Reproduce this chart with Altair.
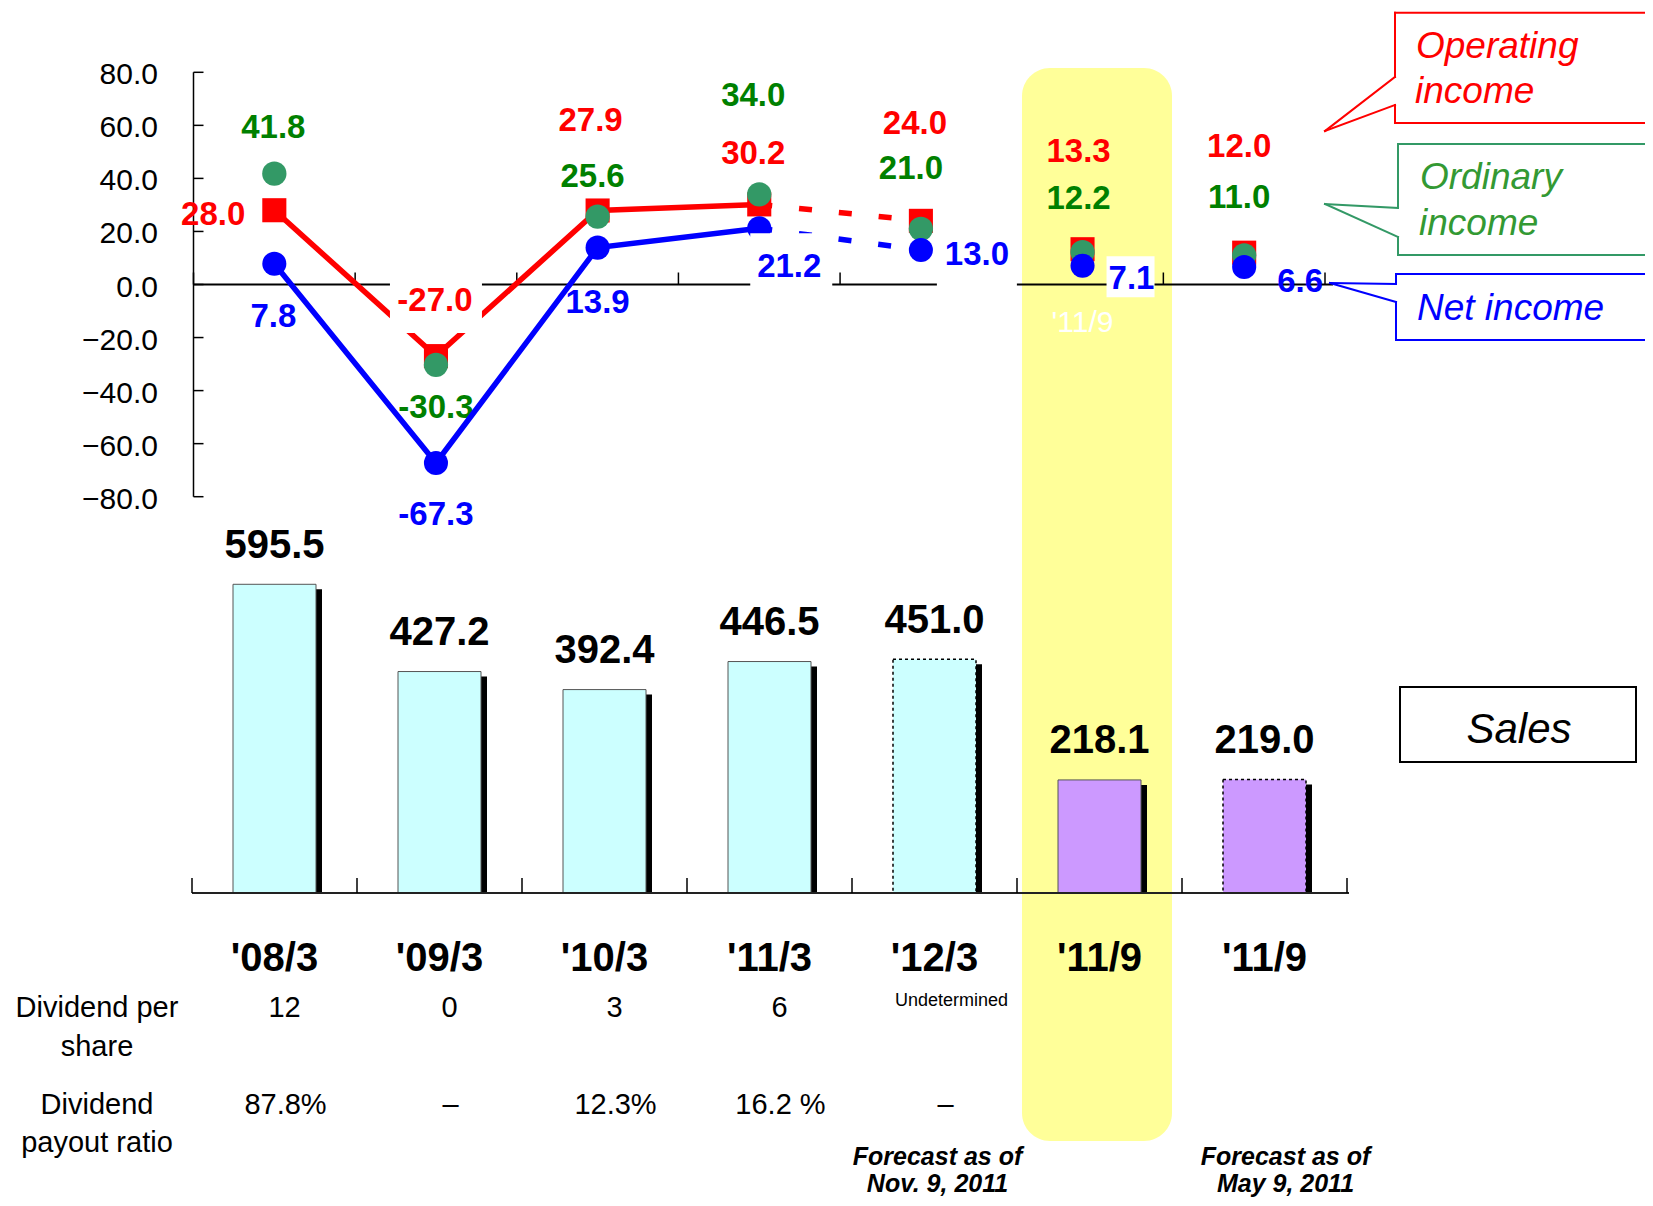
import altair as alt
import pandas as pd

# ---------------- data ----------------
keys = ["08/3", "09/3", "10/3", "11/3", "12/3", "11/9", "11/9f"]
labels = ["'08/3", "'09/3", "'10/3", "'11/3", "'12/3", "'11/9", "'11/9"]
sales = [595.5, 427.2, 392.4, 446.5, 451.0, 218.1, 219.0]
operating = [28.0, -27.0, 27.9, 30.2, 24.0, 13.3, 12.0]
ordinary = [41.8, -30.3, 25.6, 34.0, 21.0, 12.2, 11.0]
net = [7.8, -67.3, 13.9, 21.2, 13.0, 7.1, 6.6]
dividend = ["12", "0", "3", "6", "Undetermined", "", ""]
payout = ["87.8%", "–", "12.3%", "16.2 %", "–", "", ""]
span = ["year", "year", "year", "year", "year", "half", "half"]
forecast = [False, False, False, False, True, False, True]
notes = ["", "", "", "", "Forecast as of\nNov. 9, 2011", "", "Forecast as of\nMay 9, 2011"]
y_ticks = [-80, -60, -40, -20, 0, 20, 40, 60, 80]

df = pd.DataFrame({
    "idx": list(range(len(keys))),
    "key": keys, "label": labels, "sales": sales,
    "operating": operating, "ordinary": ordinary, "net": net,
    "dividend": dividend, "payout": payout, "span": span,
    "forecast": forecast, "note": notes,
})
for col in ["operating", "ordinary", "net"]:
    df[col + "_txt"] = [f"{v:.1f}" for v in df[col]]
ticks_df = pd.DataFrame({"v": y_ticks})

ONE = alt.Data(values=[{"o": 0}])

# ---------------- style / layout ----------------
FONT = "Liberation Sans"
W, H = 1637, 1190
RED, BLUE, GREEN_M, GREEN_T = "#FF0000", "#0000FF", "#339966", "#008000"

XT = alt.Scale(type="band", domain=keys, range=[185.5, 1317], paddingInner=0, paddingOuter=0)
YT = alt.Scale(type="linear", domain=[-80, 80], range=[488.7, 64.3], nice=False, zero=False)
XB = alt.Scale(type="band", domain=keys, range=[184, 1339], paddingInner=0, paddingOuter=0)
YB = alt.Scale(type="linear", domain=[0, 600], range=[885, 573.96], nice=False)

top = alt.Chart(df)
bot = alt.Chart(df)
xt = alt.X("key:N", scale=XT, axis=None)
xb = alt.X("key:N", scale=XB, axis=None)


def yt(field):
    return alt.Y(f"{field}:Q", scale=YT, axis=None)


def zero_t():
    return alt.YDatum(0, scale=YT, axis=None, type="quantitative")


def zero_b():
    return alt.YDatum(0, scale=YB, axis=None, type="quantitative")


# ---------------- highlight ----------------
highlight = alt.Chart(ONE).mark_rect(color="#FFFF99", cornerRadius=28).encode(
    x=alt.value(1014), x2=alt.value(1164), y=alt.value(60), y2=alt.value(1133))

# ---------------- top panel: axes ----------------
yaxis_line = alt.Chart(ONE).mark_rule(color="black", strokeWidth=1.5).encode(
    x=alt.value(185.5),
    y=alt.YDatum(-80, scale=YT, axis=None, type="quantitative"),
    y2=alt.Y2Datum(80))
yaxis_ticks = alt.Chart(ticks_df).mark_rule(color="black", strokeWidth=1.5).encode(
    x=alt.value(185.5), x2=alt.value(195.5), y=alt.Y("v:Q", scale=YT, axis=None))
yaxis_labels = alt.Chart(ticks_df).transform_calculate(
    t="format(datum.v, '.1f')"
).mark_text(align="right", baseline="middle", dy=3, font=FONT, fontSize=30, color="black").encode(
    x=alt.value(150), y=alt.Y("v:Q", scale=YT, axis=None), text="t:N")

zero_rule = alt.Chart(ONE).mark_rule(color="black", strokeWidth=2).encode(
    x=alt.value(185.5), x2=alt.value(1325), y=zero_t())
zero_ticks = top.mark_rule(color="black", strokeWidth=1.5).encode(
    x=alt.X("key:N", scale=XT, axis=None, bandPosition=0), y=zero_t(), y2=alt.value(264.5))
zero_tick_end = top.transform_filter(alt.datum.key == keys[-1]).mark_rule(
    color="black", strokeWidth=1.5).encode(
    x=alt.X("key:N", scale=XT, axis=None, bandPosition=1), y=zero_t(), y2=alt.value(264.5))


def line(field, color, ks, dash=None):
    props = dict(color=color, strokeWidth=5.5)
    if dash:
        props["strokeDash"] = dash
    return top.transform_filter(
        alt.FieldOneOfPredicate(field="key", oneOf=ks)
    ).mark_line(**props).encode(x=xt, y=yt(field), order="idx:Q")


LABEL_OFFS = {
    "operating": [(-29, 5, "right"), (-1, -55), (-7, -89), (-6, -50), (-6, -97), (-4, -97), (-5, -106)],
    "ordinary": [(-1, -46), (0, 43), (-5, -40), (-6, -98), (-10, -60), (-4, -53), (-5, -57)],
    "net": [(-1, 53), (0, 52), (0, 55), (30, 39), (56, 5), (49, 13), (56, 15)],
}
COLORS = {"operating": RED, "ordinary": GREEN_T, "net": BLUE}
BOXED = {("operating", 1): (0, -51, 92, 56), ("net", 3): (32, 34, 82, 58),
         ("net", 4): (56, 7, 80, 64), ("net", 5): (48, 11, 48, 41)}


def label(field, i):
    o = LABEL_OFFS[field][i]
    align = o[2] if len(o) > 2 else "center"
    return top.transform_filter(alt.datum.key == keys[i]).mark_text(
        dx=o[0], dy=o[1], align=align, baseline="middle", font=FONT,
        fontSize=33, fontWeight="bold", color=COLORS[field]
    ).encode(x=xt, y=yt(field), text=f"{field}_txt:N")


def box(field, i):
    bx, by, w, h = BOXED[(field, i)]
    r = h / w
    path = f"M-1,{-r:.4f}H1V{r:.4f}H-1Z"
    return top.transform_filter(alt.datum.key == keys[i]).mark_point(
        shape=path, size=w * w, filled=True, fill="white", strokeWidth=0,
        opacity=1, xOffset=bx, yOffset=by
    ).encode(x=xt, y=yt(field))


plain_labels = [label(f, i) for f in ["operating", "ordinary", "net"]
                for i in range(len(keys)) if (f, i) not in BOXED]
boxed = [box(f, i) for (f, i) in BOXED] + [label(f, i) for (f, i) in BOXED]

white_lbl = top.transform_filter(alt.datum.key == "11/9").mark_text(
    color="white", font=FONT, fontSize=30, baseline="middle"
).encode(x=xt, y=alt.value(315), text="label:N")

top_layer = alt.layer(
    yaxis_line, yaxis_ticks, yaxis_labels,
    zero_rule, zero_ticks, zero_tick_end,
    *plain_labels,
    line("operating", RED, keys[:4]),
    line("operating", RED, keys[3:5], dash=[13, 27]),
    line("net", BLUE, keys[:4]),
    line("net", BLUE, keys[3:5], dash=[13, 27]),
    top.mark_square(size=580, color=RED, opacity=1).encode(x=xt, y=yt("operating")),
    top.mark_circle(size=590, color=GREEN_M, opacity=1).encode(x=xt, y=yt("ordinary")),
    top.mark_circle(size=580, color=BLUE, opacity=1).encode(x=xt, y=yt("net")),
    *boxed,
    white_lbl,
)

# ---------------- bottom panel ----------------
fill = alt.Fill("span:N", scale=alt.Scale(domain=["year", "half"], range=["#CCFFFF", "#CC99FF"]), legend=None)
yb = alt.Y("sales:Q", scale=YB, axis=None)

shadow = bot.mark_bar(size=83, color="black", xOffset=6, yOffset=5, y2Offset=0).encode(
    x=xb, y=yb, y2=alt.Y2Datum(0))
bars_act = bot.transform_filter("!datum.forecast").mark_bar(
    size=83, stroke="#555555", strokeWidth=1).encode(x=xb, y=yb, fill=fill)
bars_fc = bot.transform_filter("datum.forecast").mark_bar(
    size=83, stroke="black", strokeWidth=1.5, strokeDash=[3, 3]).encode(x=xb, y=yb, fill=fill)
base_rule = alt.Chart(ONE).mark_rule(color="#222222", strokeWidth=2).encode(
    x=alt.value(184), x2=alt.value(1341), y=zero_b())
base_ticks = bot.mark_rule(color="black", strokeWidth=1.5).encode(
    x=alt.X("key:N", scale=XB, axis=None, bandPosition=0), y=zero_b(), y2=alt.value(870))
base_tick_end = bot.transform_filter(alt.datum.key == keys[-1]).mark_rule(
    color="black", strokeWidth=1.5).encode(
    x=alt.X("key:N", scale=XB, axis=None, bandPosition=1), y=zero_b(), y2=alt.value(870))
bar_lbl = bot.mark_text(dy=-38.5, font=FONT, fontSize=40, fontWeight="bold", baseline="middle").encode(
    x=xb, y=yb, text=alt.Text("sales:Q", format=".1f"))
cat_lbl = bot.mark_text(font=FONT, fontSize=40, fontWeight="bold", baseline="middle").encode(
    x=xb, y=alt.value(951), text="label:N")
div_lbl = bot.transform_filter("datum.dividend != '' && datum.dividend != 'Undetermined'").mark_text(
    dx=10, font=FONT, fontSize=29, baseline="middle").encode(x=xb, y=alt.value(1000), text="dividend:N")
undet_lbl = bot.transform_filter("datum.dividend == 'Undetermined'").mark_text(
    dx=17, font=FONT, fontSize=18, baseline="middle").encode(x=xb, y=alt.value(993), text="dividend:N")
pay_lbl = bot.transform_filter("datum.payout != ''").mark_text(
    dx=11, font=FONT, fontSize=29, baseline="middle").encode(x=xb, y=alt.value(1097), text="payout:N")


def note(key, dx):
    return bot.transform_filter(alt.datum.key == key).mark_text(
        dx=dx, font=FONT, fontSize=25, fontWeight="bold", fontStyle="italic",
        baseline="alphabetic", lineBreak="\n", lineHeight=27
    ).encode(x=xb, y=alt.value(1157), text="note:N")


bottom_layer = alt.layer(shadow, bars_act, bars_fc, base_rule, base_ticks, base_tick_end,
                         bar_lbl, cat_lbl, div_lbl, undet_lbl, pay_lbl,
                         note("12/3", 3), note("11/9f", 21))

# ---------------- annotations ----------------
def seg(x1, y1, x2, y2, color, w=2):
    return alt.Chart(ONE).mark_rule(color=color, strokeWidth=w, strokeCap="square").encode(
        x=alt.value(x1), y=alt.value(y1), x2=alt.value(x2), y2=alt.value(y2))


def callout(left, top_y, bottom_y, tip, b1, b2, color):
    return [
        seg(left, top_y, 1660, top_y, color),
        seg(left, bottom_y, 1660, bottom_y, color),
        seg(left, top_y, left, b1, color),
        seg(left, b2, left, bottom_y, color),
        seg(left, b1, tip[0], tip[1], color),
        seg(tip[0], tip[1], left, b2, color),
    ]


def txt(s, x, y, color, size=37, align="left", style="italic", baseline="alphabetic", weight="normal"):
    return alt.Chart(ONE).mark_text(
        font=FONT, fontSize=size, fontStyle=style, fontWeight=weight, align=align,
        baseline=baseline, color=color
    ).encode(x=alt.value(x), y=alt.value(y), text=alt.value(s))


annotations = []
annotations += callout(1387, 4.7, 115, (1317, 123), 69, 97, RED)
annotations += callout(1390, 136, 247, (1317, 196), 200, 229, GREEN_M)
annotations += callout(1388, 266, 332, (1322, 275), 276, 294, BLUE)
annotations += [
    txt("Operating", 1408, 50, RED),
    txt("income", 1407, 95, RED),
    txt("Ordinary", 1412, 181, "#339933"),
    txt("income", 1411, 227, "#339933"),
    txt("Net income", 1409, 312, BLUE),
    alt.Chart(ONE).mark_rect(fill="white", stroke="black", strokeWidth=2).encode(
        x=alt.value(1392), x2=alt.value(1628), y=alt.value(679), y2=alt.value(754)),
    txt("Sales", 1511, 735, "black", size=42, align="center"),
    txt("Dividend per", 89, 1000, "black", size=29, align="center", style="normal", baseline="middle"),
    txt("share", 89, 1039, "black", size=29, align="center", style="normal", baseline="middle"),
    txt("Dividend", 89, 1097, "black", size=29, align="center", style="normal", baseline="middle"),
    txt("payout ratio", 89, 1135, "black", size=29, align="center", style="normal", baseline="middle"),
]

chart = alt.layer(highlight, top_layer, bottom_layer, *annotations).resolve_scale(
    x="independent", y="independent"
).properties(
    width=W, height=H, autosize=alt.AutoSizeParams(type="none"), padding=0
).configure_view(strokeWidth=0)

chart.save("out.html", embed_options={"renderer": "svg", "actions": False})
